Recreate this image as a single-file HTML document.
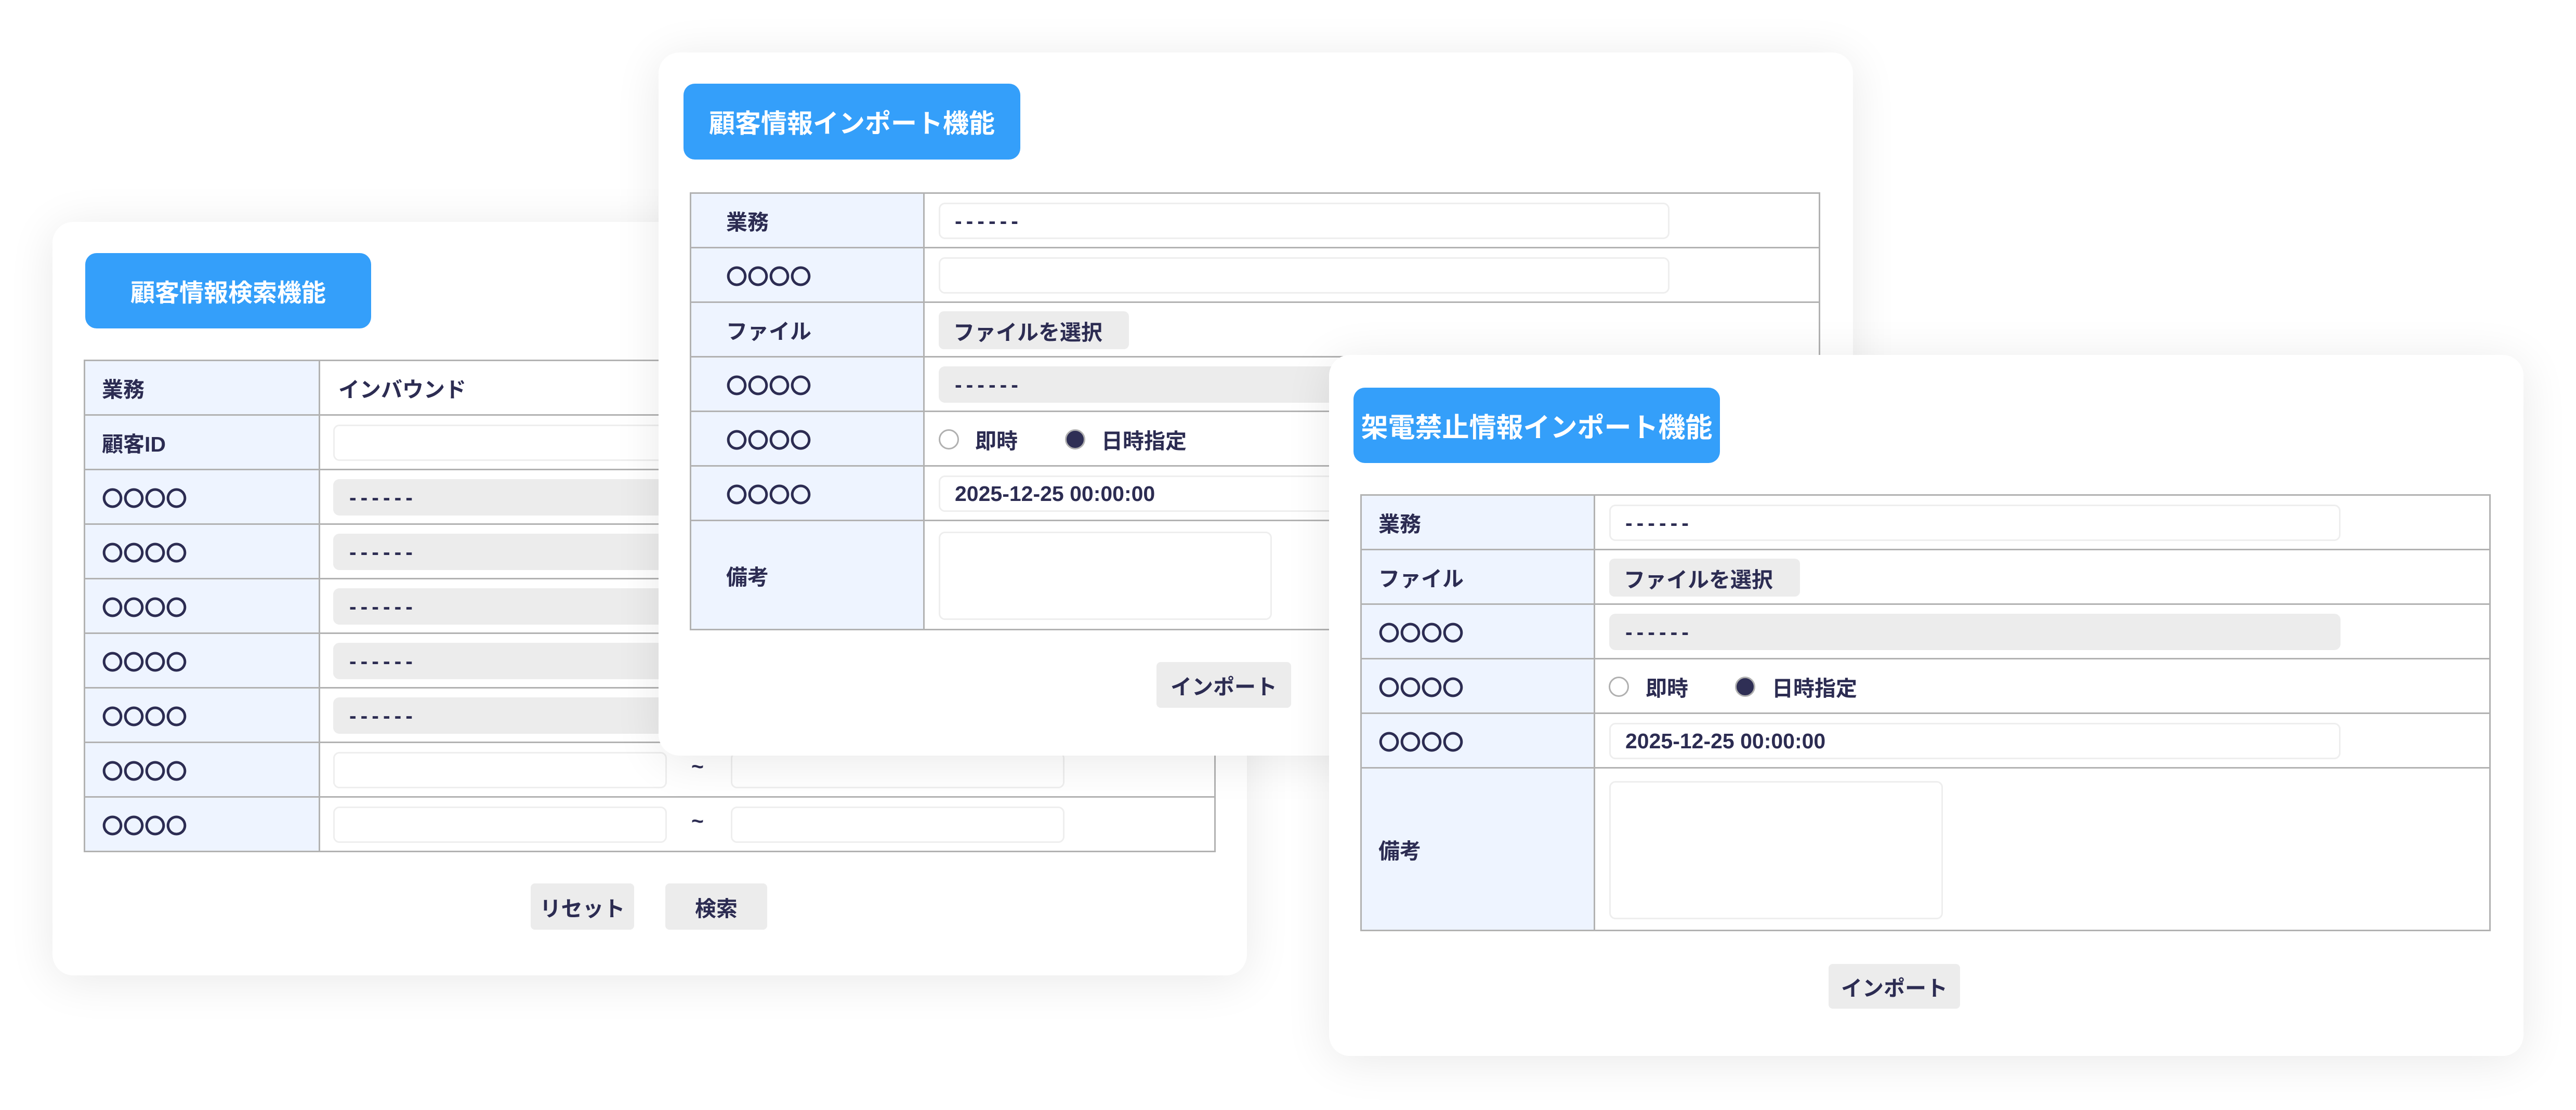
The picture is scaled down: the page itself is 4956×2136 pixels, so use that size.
<!DOCTYPE html>
<html><head><meta charset="utf-8">
<style>
*{box-sizing:border-box;margin:0;padding:0}
body{width:4956px;height:2136px;background:#fff;position:relative;overflow:hidden;font-family:"Liberation Sans","Noto Sans CJK JP",sans-serif;font-weight:bold;color:#2c2c52}
.panel{position:absolute;background:#fff;border-radius:40px;box-shadow:0 10px 90px rgba(0,0,0,0.09)}
.title{position:absolute;background:#349ffa;color:#fff;border-radius:22px;display:flex;align-items:center;justify-content:center;white-space:nowrap}
table{position:absolute;border-collapse:collapse;table-layout:fixed}
td{border:3px solid #b2b2b2;height:105px;font-size:41px;vertical-align:middle;position:relative;white-space:nowrap}
td.l{background:#eef4ff}
.inp{position:absolute;top:17px;height:70px;border:3px solid #eeeeee;border-radius:12px;background:#fff;font-size:41px;display:flex;align-items:center;padding-left:28px}
.dis{background:#ececec;border-color:#ececec}
.dash{letter-spacing:8px}
.fbtn{position:absolute;top:16px;height:73px;background:#ececec;border-radius:10px;font-size:41px;display:flex;align-items:center;padding-left:28px}
.btn{position:absolute;background:#ececec;border-radius:8px;font-size:41px;display:flex;align-items:center;justify-content:center}
.rad{position:absolute;top:33px;width:39px;height:39px;border-radius:50%}
.r0{border:3px solid #b0b0b0;background:#fff}
.r1{border:3px solid #b0b0b0;background:#2f2f55}
.rt{position:absolute;top:22px;font-size:41px}
</style></head><body>

<!-- Panel A -->
<div class="panel" style="left:101px;top:427px;width:2298px;height:1450px"></div>
<div class="title" style="left:164px;top:487px;width:550px;height:145px;font-size:47px">顧客情報検索機能</div>
<table style="left:161px;top:692px;width:2178px">
<colgroup><col style="width:452px"><col></colgroup>
<tr><td class="l" style="padding-left:32px">業務</td><td style="padding-left:35px">インバウンド</td></tr>
<tr><td class="l" style="padding-left:32px">顧客ID</td><td><div class="inp" style="left:25px;width:1407px"></div></td></tr>
<tr><td class="l" style="padding-left:32px">〇〇〇〇</td><td><div class="inp dis" style="left:25px;width:1407px"><span class="dash">------</span></div></td></tr>
<tr><td class="l" style="padding-left:32px">〇〇〇〇</td><td><div class="inp dis" style="left:25px;width:1407px"><span class="dash">------</span></div></td></tr>
<tr><td class="l" style="padding-left:32px">〇〇〇〇</td><td><div class="inp dis" style="left:25px;width:1407px"><span class="dash">------</span></div></td></tr>
<tr><td class="l" style="padding-left:32px">〇〇〇〇</td><td><div class="inp dis" style="left:25px;width:1407px"><span class="dash">------</span></div></td></tr>
<tr><td class="l" style="padding-left:32px">〇〇〇〇</td><td><div class="inp dis" style="left:25px;width:1407px"><span class="dash">------</span></div></td></tr>
<tr><td class="l" style="padding-left:32px">〇〇〇〇</td><td><div class="inp" style="left:25px;width:642px"></div><span class="rt" style="left:714px">~</span><div class="inp" style="left:790px;width:642px"></div></td></tr>
<tr><td class="l" style="padding-left:32px">〇〇〇〇</td><td><div class="inp" style="left:25px;width:642px"></div><span class="rt" style="left:714px">~</span><div class="inp" style="left:790px;width:642px"></div></td></tr>
</table>
<div class="btn" style="left:1021px;top:1700px;width:199px;height:89px">リセット</div>
<div class="btn" style="left:1280px;top:1700px;width:196px;height:89px">検索</div>

<!-- Panel B -->
<div class="panel" style="left:1267px;top:101px;width:2298px;height:1353px"></div>
<div class="title" style="left:1315px;top:161px;width:648px;height:146px;font-size:50px">顧客情報インポート機能</div>
<table style="left:1327px;top:370px;width:2175px">
<colgroup><col style="width:449px"><col></colgroup>
<tr><td class="l" style="padding-left:67px">業務</td><td><div class="inp" style="left:27px;width:1406px"><span class="dash">------</span></div></td></tr>
<tr><td class="l" style="padding-left:67px">〇〇〇〇</td><td><div class="inp" style="left:27px;width:1406px"></div></td></tr>
<tr><td class="l" style="padding-left:67px">ファイル</td><td><div class="fbtn" style="left:27px;width:366px">ファイルを選択</div></td></tr>
<tr><td class="l" style="padding-left:67px">〇〇〇〇</td><td><div class="inp dis" style="left:27px;width:1406px"><span class="dash">------</span></div></td></tr>
<tr><td class="l" style="padding-left:67px">〇〇〇〇</td><td><div class="rad r0" style="left:27px"></div><span class="rt" style="left:97px">即時</span><div class="rad r1" style="left:270px"></div><span class="rt" style="left:340px">日時指定</span></td></tr>
<tr><td class="l" style="padding-left:67px">〇〇〇〇</td><td><div class="inp" style="left:27px;width:1406px">2025-12-25 00:00:00</div></td></tr>
<tr><td class="l" style="padding-left:67px;height:210px">備考</td><td style="height:210px"><div class="inp" style="left:27px;top:20px;width:641px;height:170px"></div></td></tr>
</table>
<div class="btn" style="left:2225px;top:1274px;width:259px;height:88px">インポート</div>

<!-- Panel C -->
<div class="panel" style="left:2557px;top:683px;width:2298px;height:1349px"></div>
<div class="title" style="left:2604px;top:746px;width:705px;height:145px;font-size:52px">架電禁止情報インポート機能</div>
<table style="left:2617px;top:951px;width:2175px">
<colgroup><col style="width:449px"><col></colgroup>
<tr><td class="l" style="padding-left:32px">業務</td><td><div class="inp" style="left:27px;width:1407px"><span class="dash">------</span></div></td></tr>
<tr><td class="l" style="padding-left:32px">ファイル</td><td><div class="fbtn" style="left:27px;width:367px">ファイルを選択</div></td></tr>
<tr><td class="l" style="padding-left:32px">〇〇〇〇</td><td><div class="inp dis" style="left:27px;width:1407px"><span class="dash">------</span></div></td></tr>
<tr><td class="l" style="padding-left:32px">〇〇〇〇</td><td><div class="rad r0" style="left:26px"></div><span class="rt" style="left:97px">即時</span><div class="rad r1" style="left:269px"></div><span class="rt" style="left:340px">日時指定</span></td></tr>
<tr><td class="l" style="padding-left:32px">〇〇〇〇</td><td><div class="inp" style="left:27px;width:1407px">2025-12-25 00:00:00</div></td></tr>
<tr><td class="l" style="padding-left:32px;height:313px">備考</td><td style="height:313px"><div class="inp" style="left:27px;top:24px;width:642px;height:266px"></div></td></tr>
</table>
<div class="btn" style="left:3518px;top:1855px;width:253px;height:86px">インポート</div>

</body></html>
